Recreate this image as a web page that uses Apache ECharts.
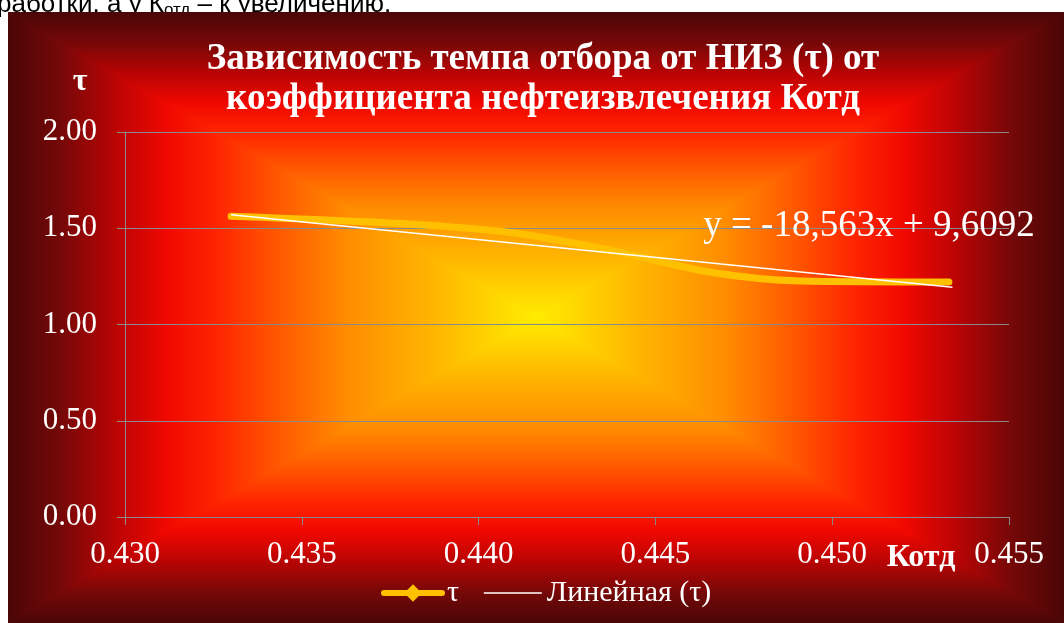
<!DOCTYPE html>
<html>
<head>
<meta charset="utf-8">
<script src="https://cdn.jsdelivr.net/npm/echarts@6/dist/echarts.min.js"></script>
<style>
html,body{margin:0;padding:0;background:#fff;}
#c{width:1064px;height:623px;}
</style>
</head>
<body>
<div id="c"></div>
<script>
// Data
const kotd = [0.4330, 0.4380, 0.4410, 0.4438, 0.4466, 0.4491, 0.4533];
const tau = [1.562, 1.522, 1.475, 1.383, 1.270, 1.226, 1.221];
const trendX = [0.4330, 0.4534];
const trendY = [1.570, 1.193];
const xTicks = ['0.430', '0.435', '0.440', '0.445', '0.450', '0.455'];
const yTicks = ['0.00', '0.50', '1.00', '1.50', '2.00'];
const titleLines = ['Зависимость темпа отбора от НИЗ (τ) от', 'коэффициента нефтеизвлечения Котд'];
const seriesNames = ['τ', 'Линейная (τ)'];
const equationText = 'y = -18,563x + 9,6092';

const SERIF = '"Liberation Serif", "Times New Roman", serif';
const BX0 = 8, BY0 = 12, BX1 = 1064, BY1 = 623;
const CX = (BX0 + BX1) / 2, CY = (BY0 + BY1) / 2;

// outer -> centre colour stops of the rectangular "path" gradient
const bgStops = [
  [0.00, '#4a0606'],
  [0.10, '#760808'],
  [0.20, '#b80404'],
  [0.30, '#f00800'],
  [0.40, '#ff2600'],
  [0.52, '#ff5c00'],
  [0.64, '#ff8c00'],
  [0.80, '#ffb400'],
  [0.92, '#ffd600'],
  [1.00, '#ffec00']
];
function stops(mirror) {
  if (mirror) {
    const a = bgStops.map(s => ({offset: s[0] / 2, color: s[1]}));
    const b = bgStops.slice().reverse().map(s => ({offset: 1 - s[0] / 2, color: s[1]}));
    return a.concat(b);
  }
  return bgStops.map(s => ({offset: s[0], color: s[1]}));
}

const chart = echarts.init(document.getElementById('c'), null, {renderer: 'canvas'});
const option = {
  backgroundColor: '#ffffff',
  animation: false,
  grid: {left: 125, right: 55, top: 132, bottom: 106, containLabel: false},
  xAxis: {
    type: 'value', min: 0.430, max: 0.455, interval: 0.005,
    axisLine: {show: true, lineStyle: {color: '#8a8a8a', width: 1}},
    axisTick: {show: true, length: 8, lineStyle: {color: '#8a8a8a'}},
    splitLine: {show: false},
    axisLabel: {
      color: '#ffffff', fontFamily: SERIF, fontSize: 31, margin: 22,
      formatter: v => xTicks[Math.round((v - 0.430) / 0.005)] || ''
    }
  },
  yAxis: {
    type: 'value', min: 0, max: 2, interval: 0.5,
    axisLine: {show: true, lineStyle: {color: '#8a8a8a', width: 1}},
    axisTick: {show: true, length: 8, lineStyle: {color: '#8a8a8a'}},
    splitLine: {show: true, lineStyle: {color: '#8a8a8a', width: 1}},
    axisLabel: {
      color: '#ffffff', fontFamily: SERIF, fontSize: 31, margin: 28,
      formatter: v => yTicks[Math.round(v / 0.5)] || ''
    }
  },
  legend: {
    left: 376, top: 573, itemGap: 24, itemWidth: 58, itemHeight: 22,
    textStyle: {color: '#ffffff', fontFamily: SERIF, fontSize: 30},
    data: [
      {name: seriesNames[0], lineStyle: {width: 6, color: '#ffc000'}, itemStyle: {color: '#ffc000'}},
      {name: seriesNames[1], lineStyle: {width: 1.5, color: '#ffffff'}, itemStyle: {opacity: 0}}
    ]
  },
  series: [
    {
      name: seriesNames[0], type: 'line', smooth: 0.3,
      data: kotd.map((x, i) => [x, tau[i]]),
      symbol: 'diamond', symbolSize: 16, showSymbol: false,
      lineStyle: {color: '#ffc000', width: 7, cap: 'round'},
      itemStyle: {color: '#ffc000'},
      z: 3
    },
    {
      name: seriesNames[1], type: 'line', smooth: false,
      data: trendX.map((x, i) => [x, trendY[i]]),
      symbol: 'none',
      lineStyle: {color: '#ffffff', width: 1.5},
      itemStyle: {color: '#ffffff'},
      z: 4
    }
  ],
  graphic: [
    // top text fragment above the chart frame
    {type: 'text', left: -3, top: -8, z: -20, silent: true,
      style: {text: 'работки, а у К{s|отд} – к увеличению.', fill: '#000000',
        font: '26px "Liberation Sans", Arial, sans-serif',
        rich: {s: {fontSize: 17, fill: '#000', padding: [10, 0, 0, 0], fontFamily: '"Liberation Sans", Arial, sans-serif'}}}},
    // background: horizontal gradient rect + top/bottom triangles (rectangular path gradient)
    {type: 'rect', z: -10, silent: true,
      shape: {x: BX0, y: BY0, width: BX1 - BX0, height: BY1 - BY0},
      style: {fill: {type: 'linear', x: 0, y: 0, x2: 1, y2: 0, colorStops: stops(true)}}},
    {type: 'polygon', z: -9, silent: true,
      shape: {points: [[BX0, BY0], [BX1, BY0], [CX, CY]]},
      style: {fill: {type: 'linear', x: 0, y: 0, x2: 0, y2: 1, colorStops: stops(false)}}},
    {type: 'polygon', z: -9, silent: true,
      shape: {points: [[BX0, BY1], [BX1, BY1], [CX, CY]]},
      style: {fill: {type: 'linear', x: 0, y: 1, x2: 0, y2: 0, colorStops: stops(false)}}},
    // title
    {type: 'text', x: 543, y: 79, z: 100, silent: true,
      style: {text: titleLines.join('\n'), fill: '#ffffff', align: 'center', verticalAlign: 'middle',
        font: 'bold 37px ' + SERIF, lineHeight: 40}},
    // axis names
    {type: 'text', x: 80, y: 82, z: 100, silent: true,
      style: {text: 'τ', fill: '#ffffff', align: 'center', verticalAlign: 'middle', font: 'bold 32px ' + SERIF}},
    {type: 'text', x: 921, y: 558, z: 100, silent: true,
      style: {text: 'Котд', fill: '#ffffff', align: 'center', verticalAlign: 'middle', font: 'bold 32px ' + SERIF}},
    // trendline equation
    {type: 'text', x: 869, y: 226, z: 100, silent: true,
      style: {text: equationText, fill: '#ffffff', align: 'center', verticalAlign: 'middle', font: '37px ' + SERIF}}
  ]
};
chart.setOption(option);
</script>
</body>
</html>
